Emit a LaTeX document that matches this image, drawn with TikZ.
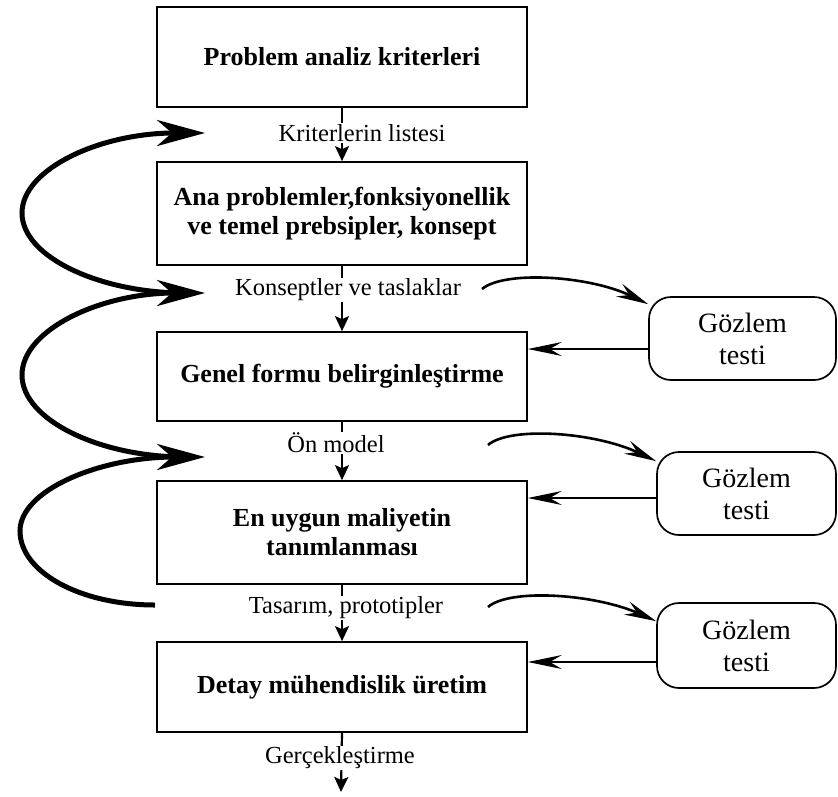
\documentclass[tikz,border=0pt]{standalone}
\usepackage{fontspec}
\setmainfont{Liberation Serif}
\usetikzlibrary{arrows.meta,positioning}

\begin{document}
\begin{tikzpicture}[
      x=1pt, y=-1pt,
      mainbox/.style={
         rectangle,
         draw=black,
         line width=1.7pt,
         minimum width=370pt,
         align=center,
         font=\fontsize{26}{29}\selectfont\bfseries},
      testbox/.style={
         rectangle,
         rounded corners=22pt,
         draw=black,
         line width=1.7pt,
         minimum height=83pt,
         align=center,
         font=\fontsize{28}{32}\selectfont},
      steplabel/.style={fill=white, inner sep=1pt, font=\fontsize{24.5}{28}\selectfont},
      downarrow/.style={line width=2.2pt, -{Stealth[length=15pt,width=14pt,inset=3pt]}},
      backarrow/.style={line width=5pt, -{Stealth[length=48pt,width=26pt,inset=15pt]}},
      testarrow/.style={line width=2.6pt, -{Stealth[length=32pt,width=14pt,inset=11pt]}},
      returnarrow/.style={line width=1.3pt, -{Stealth[length=34pt,width=14pt,inset=12pt]}}
      ]
      \useasboundingbox (0,0) rectangle (838,796);

      % main steps
      \node[mainbox, minimum height=100pt] (b1) at (342,57) {Problem analiz kriterleri};
      \node[mainbox, minimum height=103pt] (b2) at (342,213.5) {Ana problemler,fonksiyonellik\\ve temel prebsipler, konsept};
      \node[mainbox, minimum height=89pt] (b3) at (342,376.5) {Genel formu belirginleştirme};
      \node[mainbox, minimum height=103pt] (b4) at (342,532.5) {En uygun maliyetin\\tanımlanması};
      \node[mainbox, minimum height=90pt] (b5) at (342,687) {Detay mühendislik üretim};

      % observation tests
      \node[testbox, minimum width=187pt] (g1) at (742.5,338.5) {Gözlem\\testi};
      \node[testbox, minimum width=179pt] (g2) at (746.5,493.5) {Gözlem\\testi};
      \node[testbox, minimum width=179pt, minimum height=85pt] (g3) at (746.5,645.5) {Gözlem\\testi};

      \coordinate (out) at (341,792);

      \foreach \a/\b in {b1/b2, b2/b3, b3/b4, b4/b5}
         \draw[downarrow] (\a.south) -- (\b.north);
      \draw[downarrow] (b5.south) -- (out);

      % labels on the arrows
      \node[steplabel] (l1) at (362,133) {Kriterlerin listesi};
      \node[steplabel] (l2) at (348,290) {Konseptler ve taslaklar};
      \node[steplabel] (l3) at (336,443) {Ön model};
      \node[steplabel] (l4) at (346,608) {Tasarım, prototipler};
      \node[steplabel] (l5) at (340,758) {Gerçekleştirme};

      % results of the tests
      \foreach \g/\b/\d in {g1/b3/10.5, g2/b4/4.5, g3/b5/16.5}{
         \path ([yshift=-\d pt]\g.west) coordinate (r\g);
         \draw[returnarrow] (r\g) -- (r\g -| \b.east);
      }

      % to the tests
      \coordinate (t1) at (482,289);
      \coordinate (t2) at (488,445);
      \coordinate (t3) at (488,607);
      \draw[testarrow] (t1) .. controls (505,270) and (590,276) .. ([yshift=-8pt]g1.north west);
      \draw[testarrow] (t2) .. controls (510,426) and (595,432) .. ([yshift=-10pt]g2.north west);
      \draw[testarrow] (t3) .. controls (510,588) and (595,594) .. ([yshift=-19pt]g3.north west);

      % feedback loops
      \coordinate (k1) at (205,133);
      \coordinate (k2) at (205,293);
      \coordinate (k3) at (205,457);
      \coordinate (k4) at (155,605);
      \draw[backarrow] (185,293) .. controls (100,293) and (22,257) .. (22,213)
         .. controls (22,169) and (100,133) .. (k1);
      \draw[backarrow] (185,457) .. controls (100,457) and (22,420) .. (22,375)
         .. controls (22,330) and (100,293) .. (k2);
      \draw[backarrow] (k4) .. controls (80,605) and (20,572) .. (20,531)
         .. controls (20,490) and (100,457) .. (k3);

\end{tikzpicture}
\end{document}
